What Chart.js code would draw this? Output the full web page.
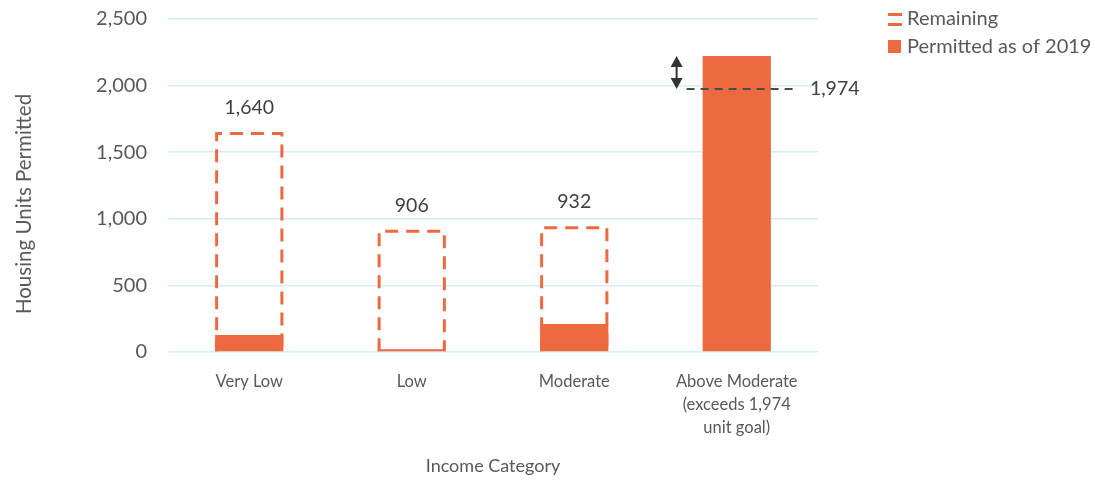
<!DOCTYPE html>
<html>
<head>
<meta charset="utf-8">
<script src="https://cdn.jsdelivr.net/npm/chart.js@4.4.1/dist/chart.umd.min.js"></script>
<style>
    body { margin: 0; background: #fff; }
    #wrap { width: 1095px; height: 480px; position: relative; }
</style>
</head>
<body>
<div id="wrap"><canvas id="housingChart"></canvas></div>
<script>
// Chart data
const categories = [['Very Low'], ['Low'], ['Moderate'], ['Above Moderate', '(exceeds 1,974', 'unit goal)']];
const remainingValues = [1640, 906, 932, null];   // dashed boxes
const permittedValues = [127, 20, 210, 2222];
const goalValue = 1974;                            // above moderate goal
const yTicks = [0, 500, 1000, 1500, 2000, 2500];

const orange = '#ED6A41';
const darkText = '#404040';
const greyText = '#595959';
const fontName = 'Lato, "Open Sans", sans-serif';

const fmt = v => Number(v).toLocaleString('en-US');

// Draw the "Remaining" bars as dashed outlines with their labels
const dashedBoxes = {
    id: 'dashedBoxes',
    afterDatasetDraw(chart, args) {
        if (args.index !== 0) return;
        const ctx = chart.ctx;
        ctx.save();
        ctx.strokeStyle = orange;
        ctx.lineWidth = 3;
        ctx.setLineDash([13, 8]);
        ctx.font = '19.5px ' + fontName;
        ctx.fillStyle = darkText;
        ctx.textAlign = 'center';
        ctx.textBaseline = 'middle';
        args.meta.data.forEach((bar, i) => {
            if (remainingValues[i] == null) return;
            // keep the stroke inside the bar edges
            const left = bar.x - bar.width / 2 + 1.5;
            const right = bar.x + bar.width / 2 - 1.5;
            ctx.beginPath();
            ctx.moveTo(left, bar.base);
            ctx.lineTo(left, bar.y);
            ctx.lineTo(right, bar.y);
            ctx.lineTo(right, bar.base);
            ctx.stroke();
            ctx.fillText(fmt(remainingValues[i]), bar.x, bar.y - 26);
        });
        ctx.restore();
    }
};

// Goal line, arrow, axis title and custom legend
const annotations = {
    id: 'annotations',
    afterDatasetsDraw(chart) {
        const ctx = chart.ctx;
        const yScale = chart.scales.y;
        const bar = chart.getDatasetMeta(1).data[3];
        const left = bar.x - bar.width / 2;
        const right = bar.x + bar.width / 2;
        const goalY = yScale.getPixelForValue(goalValue);
        const topY = yScale.getPixelForValue(permittedValues[3]);

        ctx.save();
        // dashed goal line
        ctx.strokeStyle = '#4a4a4a';
        ctx.lineWidth = 2;
        ctx.setLineDash([8, 6]);
        ctx.beginPath();
        ctx.moveTo(left - 16, goalY);
        ctx.lineTo(right + 24, goalY);
        ctx.stroke();
        ctx.setLineDash([]);

        ctx.font = '19.5px ' + fontName;
        ctx.fillStyle = darkText;
        ctx.textAlign = 'left';
        ctx.textBaseline = 'middle';
        ctx.fillText(fmt(goalValue), right + 39, goalY);

        // double arrow
        const ax = left - 26;
        ctx.strokeStyle = '#333';
        ctx.fillStyle = '#333';
        ctx.lineWidth = 2;
        ctx.beginPath();
        ctx.moveTo(ax, topY + 8);
        ctx.lineTo(ax, goalY - 8);
        ctx.stroke();
        ctx.beginPath();
        ctx.moveTo(ax, topY);
        ctx.lineTo(ax - 6, topY + 11);
        ctx.lineTo(ax + 6, topY + 11);
        ctx.closePath();
        ctx.fill();
        ctx.beginPath();
        ctx.moveTo(ax, goalY);
        ctx.lineTo(ax - 6, goalY - 11);
        ctx.lineTo(ax + 6, goalY - 11);
        ctx.closePath();
        ctx.fill();
        ctx.restore();
    },
    afterDraw(chart) {
        const ctx = chart.ctx;
        const lx = chart.chartArea.right + 70;
        ctx.save();
        // y axis title
        ctx.font = '20.5px ' + fontName;
        ctx.fillStyle = greyText;
        ctx.textAlign = 'center';
        ctx.textBaseline = 'middle';
        ctx.translate(24, 204);
        ctx.rotate(-Math.PI / 2);
        ctx.fillText('Housing Units Permitted', 0, 0);
        ctx.restore();

        // legend
        ctx.save();
        ctx.fillStyle = orange;
        ctx.fillRect(lx, 13, 14, 3);
        ctx.fillRect(lx, 23, 14, 3);
        ctx.fillRect(lx, 40, 13, 13);
        ctx.font = '20px ' + fontName;
        ctx.fillStyle = greyText;
        ctx.textAlign = 'left';
        ctx.textBaseline = 'middle';
        ctx.fillText(chart.data.datasets[0].label, lx + 19, 19);
        ctx.fillText(chart.data.datasets[1].label, lx + 19, 47);
        ctx.restore();
    }
};

const ctx = document.getElementById('housingChart');
new Chart(ctx.getContext('2d'), {
    type: 'bar',
    data: {
        labels: categories,
        datasets: [{
            label: 'Remaining',
            data: remainingValues,
            backgroundColor: 'rgba(0,0,0,0)',
            borderWidth: 0,
            order: 1
        }, {
            label: 'Permitted as of 2019',
            data: permittedValues,
            backgroundColor: orange,
            borderWidth: 0,
            order: 0
        }]
    },
    options: {
        responsive: true,
        maintainAspectRatio: false,
        animation: false,
        events: [],
        layout: {
            padding: { top: 19, right: 277, bottom: 0, left: 0 }
        },
        datasets: {
            bar: {
                grouped: false,
                categoryPercentage: 1,
                barPercentage: 0.42
            }
        },
        plugins: {
            legend: { display: false },
            tooltip: { enabled: false }
        },
        scales: {
            x: {
                afterFit: scale => {
                    scale.height = 128;
                    scale.paddingLeft = 0;
                    scale.paddingRight = 0;
                },
                grid: { display: false, drawTicks: false },
                border: { display: false },
                ticks: {
                    color: greyText,
                    padding: 18,
                    maxRotation: 0,
                    font: { family: fontName, size: 16.5, lineHeight: 1.4 }
                },
                title: {
                    display: true,
                    text: 'Income Category',
                    color: greyText,
                    font: { family: fontName, size: 18 },
                    padding: { top: 10, bottom: 3 }
                }
            },
            y: {
                min: 0,
                max: 2500,
                afterBuildTicks: scale => {
                    scale.ticks = yTicks.map(v => ({ value: v }));
                },
                afterFit: scale => {
                    scale.width = 168;
                    scale.paddingTop = 0;
                    scale.paddingBottom = 0;
                },
                grid: {
                    color: '#D5EEF5',
                    lineWidth: 1.5,
                    drawTicks: false
                },
                border: { display: false },
                ticks: {
                    color: greyText,
                    padding: 21,
                    font: { family: fontName, size: 20 },
                    callback: v => fmt(v)
                }
            }
        }
    },
    plugins: [dashedBoxes, annotations]
});
</script>
</body>
</html>
